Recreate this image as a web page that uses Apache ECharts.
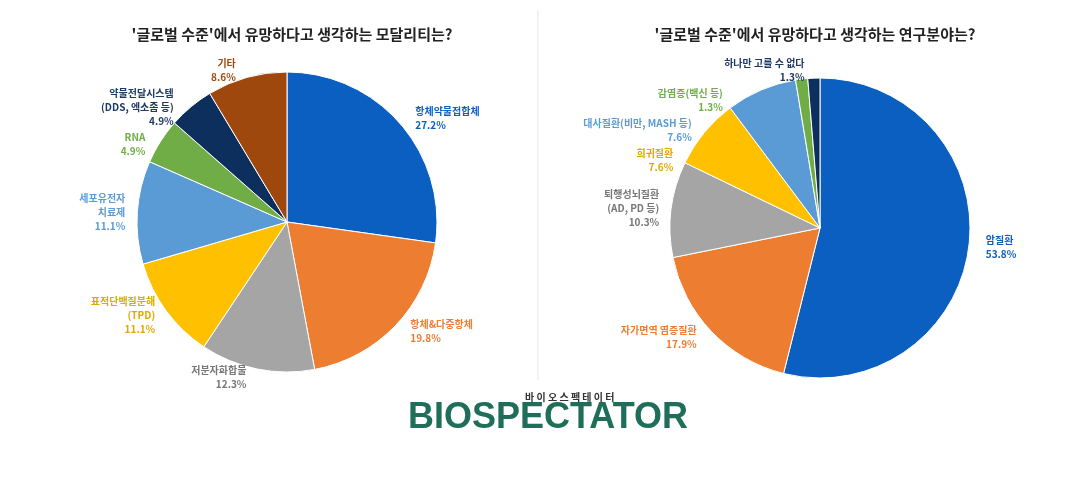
<!DOCTYPE html>
<html><head><meta charset="utf-8">
<script src="https://cdn.jsdelivr.net/npm/echarts@6/dist/echarts.min.js"></script>
<style>html,body{margin:0;background:#fff}#c{width:1076px;height:496px}</style>
</head><body><div id="c"></div>
<script>
const leftTitle = "'글로벌 수준'에서 유망하다고 생각하는 모달리티는?";
const rightTitle = "'글로벌 수준'에서 유망하다고 생각하는 연구분야는?";
const leftNames = ["항체약물접합체","항체&다중항체","저분자화합물","표적단백질분해\n(TPD)","세포유전자\n치료제","RNA","약물전달시스템\n(DDS, 엑소좀 등)","기타"];
const leftValues = [27.2,19.8,12.3,11.1,11.1,4.9,4.9,8.6];
const rightNames = ["암질환","자가면역 염증질환","퇴행성뇌질환\n(AD, PD 등)","희귀질환","대사질환(비만, MASH 등)","감염증(백신 등)","하나만 고를 수 없다"];
const rightValues = [53.8,17.9,10.3,7.6,7.6,1.3,1.3];
const leftColors = ["#0a5fc0","#ed7d31","#a5a5a5","#ffc000","#5b9bd5","#70ad47","#0d2f5e","#9e480e"];
const rightColors = ["#0a5fc0","#ed7d31","#a5a5a5","#ffc000","#5b9bd5","#70ad47","#0d2f5e"];
const labelColors = c => c.map(x => x === "#a5a5a5" ? "#777" : x === "#0d2f5e" ? "#1f3864" : x === "#ffc000" ? "#e0a800" : x);
function mk(names, vals, cols) {
  const lc = labelColors(cols);
  return names.map((n,i)=>({name:n,value:vals[i],itemStyle:{color:cols[i]},label:{color:lc[i]}}));
}
const chart = echarts.init(document.getElementById('c'));
const lbl = {formatter: p => p.name + '\n' + p.value.toFixed(1) + '%', fontSize:10, fontWeight:'bold', lineHeight:14, fontFamily:'Noto Sans CJK KR'};
chart.setOption({
  title:[
    {text:leftTitle,left:287,top:22,textAlign:'center',textStyle:{fontSize:15,fontWeight:'bold',color:'#222',fontFamily:'Noto Sans CJK KR'}},
    {text:rightTitle,left:810,top:22,textAlign:'center',textStyle:{fontSize:15,fontWeight:'bold',color:'#222',fontFamily:'Noto Sans CJK KR'}}
  ],
  graphic:[
    {type:'line',shape:{x1:538,y1:10,x2:538,y2:380},style:{stroke:'#e6e6e6'}},
    {type:'text',left:408,top:400,style:{text:'BIOSPECTATOR',fontSize:36,fontWeight:'bold',fill:'#1e6e5a',fontFamily:'Liberation Sans'}},
    {type:'text',left:525,top:392,style:{text:'바 이 오 스 펙 테 이 터',fontSize:10,fontWeight:'bold',fill:'#333',fontFamily:'Noto Sans CJK KR'}}
  ],
  series:[
    {type:'pie',center:[287,222],radius:[0,150],startAngle:90,clockwise:true,data:mk(leftNames,leftValues,leftColors),
     label:lbl,labelLine:{show:false,length:8,length2:4},itemStyle:{borderColor:'#fff',borderWidth:1},emphasis:{disabled:true}},
    {type:'pie',center:[820,228],radius:[0,150],startAngle:90,clockwise:true,data:mk(rightNames,rightValues,rightColors),
     label:lbl,labelLine:{show:false,length:8,length2:4},itemStyle:{borderColor:'#fff',borderWidth:1},emphasis:{disabled:true}}
  ]
});
</script></body></html>
